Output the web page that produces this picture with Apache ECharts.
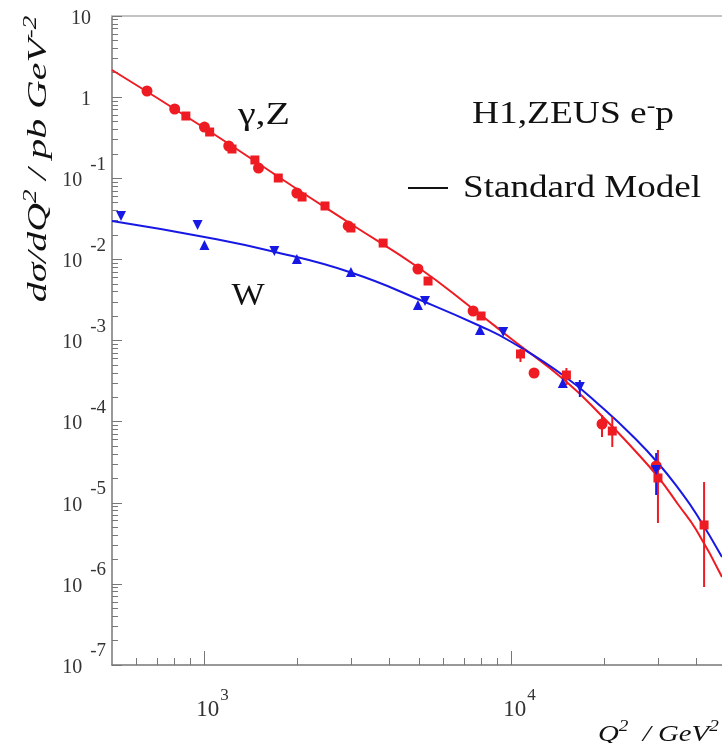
<!DOCTYPE html>
<html><head><meta charset="utf-8">
<script src="https://cdn.jsdelivr.net/npm/echarts@6/dist/echarts.min.js"></script>
<style>html,body{margin:0;padding:0;background:#fff}#c{width:722px;height:743px}</style>
</head><body><div id="c"></div>
<script>
// ---- tick values ----
const xTickMajor = [1000, 10000];
const xTickMinor = [600, 700, 800, 900, 2000, 3000, 4000, 5000, 6000, 7000, 8000, 9000, 20000, 30000, 40000];
const yTickMajor = [1e-7, 1e-6, 1e-5, 1e-4, 1e-3, 1e-2, 1e-1, 1, 10];
const yMinorMult = [2, 3, 4, 5, 6, 7, 8, 9];

// ---- Standard Model curves ----
const ncCurveQ2 = [500, 1000, 2000, 3000, 5000, 7500, 10000, 15000, 20000, 25000, 30000, 35000, 40000, 48500];
const ncCurveXS = [2.16, 0.4164, 0.0737, 0.02729, 0.00783, 0.002445, 1.043e-3, 3.168e-4, 1.1085e-4, 4.57e-5, 2.077e-5, 9.38e-6, 4.614e-6, 1.215e-6];
const ccCurveQ2 = [500, 1000, 1700, 3000, 5230, 7900, 10000, 15000, 20000, 25000, 30000, 35000, 40000, 48500];
const ccCurveXS = [0.0297, 0.01887, 0.01233, 0.00689, 0.00298, 0.001509, 9.58e-4, 3.55e-4, 1.43e-4, 6.46e-5, 3.09e-5, 1.49e-5, 7.27e-6, 2.145e-6];

// ---- data points (gamma,Z : red ; W : blue) ----
const redCircleQ2 = [650, 800, 1000, 1200, 1500, 2000, 2940, 4960, 7500, 11850, 19720, 29600];
const redCircleXS = [1.19, 0.714, 0.428, 0.2497, 0.1338, 0.0658, 0.0258, 0.00761, 0.00231, 3.975e-4, 9.35e-5, 2.84e-5];
const redSquareQ2 = [870, 1040, 1230, 1460, 1740, 2080, 2470, 3000, 3820, 5350, 7960, 10700, 15100, 21300, 30000, 42400];
const redSquareXS = [0.585, 0.3716, 0.2294, 0.168, 0.1007, 0.0587, 0.0455, 0.02436, 0.0159, 0.00541, 0.002005, 6.82e-4, 3.755e-4, 7.66e-5, 2.02e-5, 5.32e-6];
const blueUpQ2 = [1000, 2000, 3000, 4960, 7900, 14700];
const blueUpXS = [0.01504, 0.01011, 0.00699, 0.00274, 0.001347, 2.99e-4];
const blueDownQ2 = [535, 950, 1690, 5230, 9400, 16700, 29600];
const blueDownXS = [0.03425, 0.02652, 0.01268, 0.00307, 0.001273, 2.67e-4, 2.53e-5];

// ---- error bars ----
const redErrQ2 = [10700, 15100, 19720, 21300, 30000, 42400];
const redErrLo = [5.43e-4, 2.83e-4, 6.46e-5, 4.87e-5, 5.63e-6, 9.15e-7];
const redErrHi = [7.86e-4, 4.58e-4, 1.207e-4, 1.14e-4, 4.47e-5, 1.80e-5];
const blueErrQ2 = [14700, 16700, 29600];
const blueErrLo = [2.6e-4, 2.01e-4, 1.246e-5];
const blueErrHi = [3.4e-4, 3.26e-4, 4.1e-5];

const RED = '#ee1c22', BLUE = '#1818e4', AX = '#777';
const FF = '"Liberation Serif", "DejaVu Serif", serif';

const zip = (a, b) => a.map((v, i) => [v, b[i]]);
const zip3 = (a, b, c) => a.map((v, i) => [v, b[i], c[i]]);
const yTickMinor = [];
yTickMajor.slice(0, -1).forEach(d => yMinorMult.forEach(m => yTickMinor.push(d * m)));

const errRender = color => (params, api) => {
  const p1 = api.coord([api.value(0), api.value(1)]);
  const p2 = api.coord([api.value(0), api.value(2)]);
  return { type: 'line', shape: { x1: p1[0], y1: p1[1], x2: p2[0], y2: p2[1] },
           style: { stroke: color, lineWidth: 2 } };
};

const chart = echarts.init(document.getElementById('c'), null, { renderer: 'canvas' });
const xBase = { type: 'log', logBase: 10, min: 500, max: 48500, splitLine: { show: false } };
const yBase = { type: 'log', logBase: 10, min: 1e-7, max: 10, splitLine: { show: false } };

chart.setOption({
  animation: false,
  backgroundColor: '#fff',
  grid: { left: 112, right: 0, top: 16, bottom: 78, containLabel: false },
  xAxis: [
    Object.assign({}, xBase, {
      position: 'bottom',
      axisLine: { lineStyle: { color: AX, width: 1.5 } },
      axisTick: { inside: true, length: 14, customValues: xTickMajor, lineStyle: { color: AX, width: 1 } },
      axisLabel: {
        customValues: xTickMajor, margin: 17, padding: [0, 0, 0, 16],
        formatter: v => '{b|10}{e|' + Math.round(Math.log10(v)) + '}',
        rich: {
          b: { fontSize: 23, lineHeight: 56, fontFamily: FF, color: '#333' },
          e: { fontSize: 17, verticalAlign: 'top', padding: [5, 0, 0, 1], fontFamily: FF, color: '#333' }
        }
      }
    }),
    Object.assign({}, xBase, {
      position: 'bottom',
      axisLine: { show: false },
      axisTick: { inside: true, length: 7, customValues: xTickMinor, lineStyle: { color: AX, width: 1 } },
      axisLabel: { show: false }
    }),
    Object.assign({}, xBase, {
      position: 'top',
      axisLine: { lineStyle: { color: '#c4c4c4', width: 2 } },
      axisTick: { show: false },
      axisLabel: { show: false }
    })
  ],
  yAxis: [
    Object.assign({}, yBase, {
      position: 'left',
      axisLine: { lineStyle: { color: AX, width: 1.5 } },
      axisTick: { inside: true, length: 10, customValues: yTickMajor, lineStyle: { color: AX, width: 1 } },
      axisLabel: {
        customValues: yTickMajor, margin: 6,
        formatter: v => {
          const e = Math.round(Math.log10(v));
          if (e === 1) return '{b|10}{sp|}';
          if (e === 0) return '{b|1}{sp|}';
          return '{b|10}{e|' + e + '}';
        },
        rich: {
          b: { fontSize: 20, lineHeight: 56, padding: [5, 0, 0, 0], fontFamily: FF, color: '#333' },
          e: { fontSize: 19, verticalAlign: 'top', padding: [5, 0, 0, 8], fontFamily: FF, color: '#333' },
          sp: { width: 15 }
        }
      }
    }),
    Object.assign({}, yBase, {
      position: 'left',
      axisLine: { show: false },
      axisTick: { inside: true, length: 6, customValues: yTickMinor, lineStyle: { color: AX, width: 1 } },
      axisLabel: { show: false }
    })
  ],
  series: [
    { type: 'line', name: 'NC SM', data: zip(ncCurveQ2, ncCurveXS), smooth: true, showSymbol: false,
      lineStyle: { color: RED, width: 2 }, z: 2 },
    { type: 'line', name: 'CC SM', data: zip(ccCurveQ2, ccCurveXS), smooth: true, showSymbol: false,
      lineStyle: { color: BLUE, width: 2 }, z: 2 },
    { type: 'custom', data: zip3(redErrQ2, redErrLo, redErrHi), renderItem: errRender(RED),
      encode: { x: 0, y: [1, 2] }, z: 3 },
    { type: 'custom', data: zip3(blueErrQ2, blueErrLo, blueErrHi), renderItem: errRender(BLUE),
      encode: { x: 0, y: [1, 2] }, z: 3 },
    { type: 'scatter', data: zip(redCircleQ2, redCircleXS), symbol: 'circle', symbolSize: 11,
      itemStyle: { color: RED, opacity: 1 }, z: 4 },
    { type: 'scatter', data: zip(redSquareQ2, redSquareXS), symbol: 'rect', symbolSize: 9,
      itemStyle: { color: RED, opacity: 1 }, z: 4 },
    { type: 'scatter', data: zip(blueUpQ2, blueUpXS), symbol: 'triangle', symbolSize: 10,
      itemStyle: { color: BLUE, opacity: 1 }, z: 5 },
    { type: 'scatter', data: zip(blueDownQ2, blueDownXS), symbol: 'triangle', symbolSize: 10, symbolRotate: 180,
      itemStyle: { color: BLUE, opacity: 1 }, z: 5 }
  ],
  graphic: [
    { type: 'text', x: 39, y: 159, rotation: Math.PI / 2, scaleX: 1.42,
      style: { text: '{t|dσ/dQ}{s|2}{t| / pb GeV}{s|-2}', align: 'center', verticalAlign: 'middle',
        rich: {
          t: { fontSize: 28, fontStyle: 'italic', fontFamily: FF, lineHeight: 36, fill: '#111' },
          s: { fontSize: 19, fontStyle: 'italic', fontFamily: FF, lineHeight: 20, verticalAlign: 'top', fill: '#111' }
        } } },
    { type: 'text', x: 598, y: 735, scaleX: 1.2,
      style: { text: '{t|Q}{s|2}{t|  / GeV}{s|2}', align: 'left', verticalAlign: 'middle',
        rich: {
          t: { fontSize: 24, fontStyle: 'italic', fontFamily: FF, lineHeight: 32, fill: '#111' },
          s: { fontSize: 16, fontStyle: 'italic', fontFamily: FF, lineHeight: 14, verticalAlign: 'top', fill: '#111' }
        } } },
    { type: 'text', x: 264, y: 116, scaleX: 1.25,
      style: { text: 'γ,Z', align: 'center', verticalAlign: 'middle', fontSize: 32, fontFamily: FF, fill: '#111' } },
    { type: 'text', x: 248, y: 297, scaleX: 1.1,
      style: { text: 'W', align: 'center', verticalAlign: 'middle', fontSize: 32, fontFamily: FF, fill: '#111' } },
    { type: 'text', x: 472, y: 115, scaleX: 1.17,
      style: { text: '{t|H1,ZEUS e}{s|-}{t|p}', align: 'left', verticalAlign: 'middle',
        rich: {
          t: { fontSize: 32, fontFamily: FF, lineHeight: 40, fill: '#111' },
          s: { fontSize: 22, fontFamily: FF, lineHeight: 22, verticalAlign: 'top', fill: '#111' }
        } } },
    { type: 'line', shape: { x1: 408, y1: 188, x2: 448, y2: 188 }, style: { stroke: '#111', lineWidth: 2 } },
    { type: 'text', x: 463, y: 189, scaleX: 1.16,
      style: { text: 'Standard Model', align: 'left', verticalAlign: 'middle', fontSize: 32, fontFamily: FF, fill: '#111' } }
  ]
});
</script>
</body></html>
